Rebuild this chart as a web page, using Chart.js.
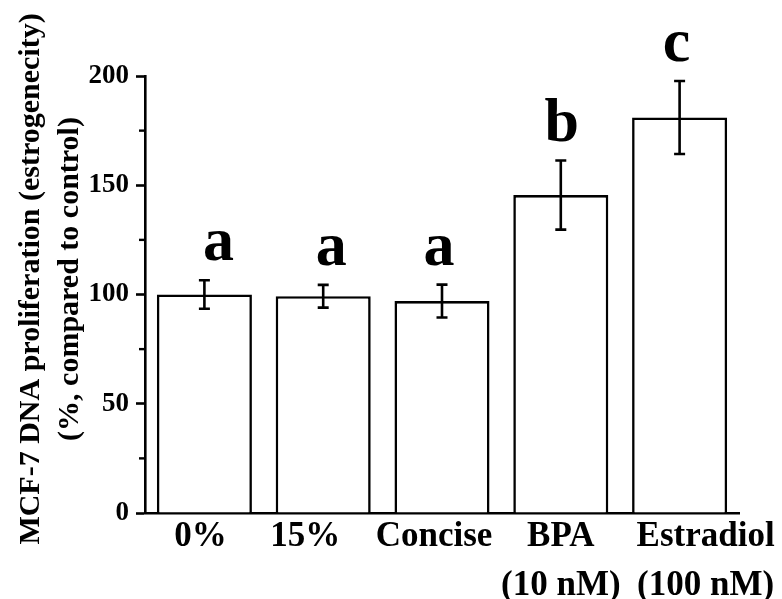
<!DOCTYPE html>
<html>
<head>
<meta charset="utf-8">
<script src="https://cdn.jsdelivr.net/npm/chart.js@4/dist/chart.umd.min.js"></script>
<style>
  html, body { margin: 0; padding: 0; background: #fff; }
  #wrap { width: 782px; height: 599px; }
</style>
</head>
<body>
<div id="wrap"><canvas id="c" width="782" height="599"></canvas></div>
<script>
// Treatment groups and measured estrogenicity (% of control)
const categories = ['0%', '15%', 'Concise', ['BPA', '(10 nM)'], ['Estradiol', '(100 nM)']];
const meanValues = [100, 99.2, 97, 145.5, 181];
const errorValues = [6.5, 5.2, 7.5, 15.8, 16.7];
const groupLetters = ['a', 'a', 'a', 'b', 'c'];
const yTitleLines = ['MCF-7 DNA proliferation (estrogenecity)', '(%, compared to control)'];

// Layout / style
const SERIF = '"Liberation Serif", "Times New Roman", serif';
const INK = '#000';
const xLabelShift = [-4, -18, -8, 0, 26];
const letterShift = [14, 8, -3, 1, -3];

const errorBarsPlugin = {
  id: 'errorBars',
  afterDatasetsDraw(chart) {
    const { ctx, scales: { y } } = chart;
    const meta = chart.getDatasetMeta(0);
    ctx.save();
    ctx.strokeStyle = INK;
    ctx.lineWidth = 2.6;
    meta.data.forEach((bar, i) => {
      const top = y.getPixelForValue(meanValues[i] + errorValues[i]);
      const bot = y.getPixelForValue(meanValues[i] - errorValues[i]);
      const cap = 5.5;
      ctx.beginPath();
      ctx.moveTo(bar.x, top); ctx.lineTo(bar.x, bot);
      ctx.moveTo(bar.x - cap, top); ctx.lineTo(bar.x + cap, top);
      ctx.moveTo(bar.x - cap, bot); ctx.lineTo(bar.x + cap, bot);
      ctx.stroke();
      // significance letter above the error bar
      ctx.fillStyle = INK;
      ctx.font = 'bold 62px ' + SERIF;
      ctx.textAlign = 'center';
      ctx.textBaseline = 'alphabetic';
      ctx.fillText(groupLetters[i], bar.x + letterShift[i], top - 20);
    });
    ctx.restore();
  }
};

const axisDecorPlugin = {
  id: 'axisDecor',
  afterDraw(chart) {
    const { ctx, scales: { x, y }, chartArea } = chart;
    ctx.save();
    // minor ticks halfway between the major ones
    ctx.strokeStyle = INK;
    ctx.lineWidth = 2.4;
    const ticks = y.ticks.map(t => t.value);
    for (let i = 0; i < ticks.length - 1; i++) {
      const py = y.getPixelForValue((ticks[i] + ticks[i + 1]) / 2);
      ctx.beginPath();
      ctx.moveTo(chartArea.left - 6, py);
      ctx.lineTo(chartArea.left, py);
      ctx.stroke();
    }
    // category labels
    ctx.fillStyle = INK;
    ctx.font = 'bold 35px ' + SERIF;
    ctx.textAlign = 'center';
    ctx.textBaseline = 'alphabetic';
    chart.data.labels.forEach((lab, i) => {
      const lines = Array.isArray(lab) ? lab : [lab];
      const px = x.getPixelForValue(i) + xLabelShift[i];
      lines.forEach((ln, k) => {
        ctx.fillText(ln, px, chartArea.bottom + 33 + k * 49);
      });
    });
    // y-axis title, two rotated lines
    ctx.font = 'bold 30px ' + SERIF;
    const cy = 279;
    [39, 78].forEach((bx, k) => {
      ctx.save();
      ctx.translate(bx, cy);
      ctx.rotate(-Math.PI / 2);
      ctx.fillText(yTitleLines[k], 0, 0);
      ctx.restore();
    });
    ctx.restore();
  }
};

new Chart(document.getElementById('c'), {
  type: 'bar',
  data: {
    labels: categories,
    datasets: [{
      data: meanValues,
      backgroundColor: '#fff',
      borderColor: INK,
      borderWidth: 2.6,
      barPercentage: 0.8,
      categoryPercentage: 1.0
    }]
  },
  options: {
    responsive: false,
    animation: false,
    layout: { padding: { top: 76, right: 43, left: 0, bottom: 0 } },
    plugins: { legend: { display: false }, tooltip: { enabled: false } },
    scales: {
      x: {
        grid: { display: false },
        border: { display: true, color: INK, width: 2.6 },
        ticks: { display: false },
        afterFit(scale) { scale.height = 86; }
      },
      y: {
        min: 0,
        max: 200,
        ticks: {
          stepSize: 50,
          color: INK,
          padding: 7,
          font: { family: SERIF, size: 27, weight: 'bold' }
        },
        grid: {
          drawOnChartArea: false,
          drawTicks: true,
          tickLength: 9,
          tickWidth: 2.6,
          tickColor: INK
        },
        border: { display: true, color: INK, width: 2.6 },
        afterFit(scale) { scale.width = 145; }
      }
    }
  },
  plugins: [errorBarsPlugin, axisDecorPlugin]
});
</script>
</body>
</html>
